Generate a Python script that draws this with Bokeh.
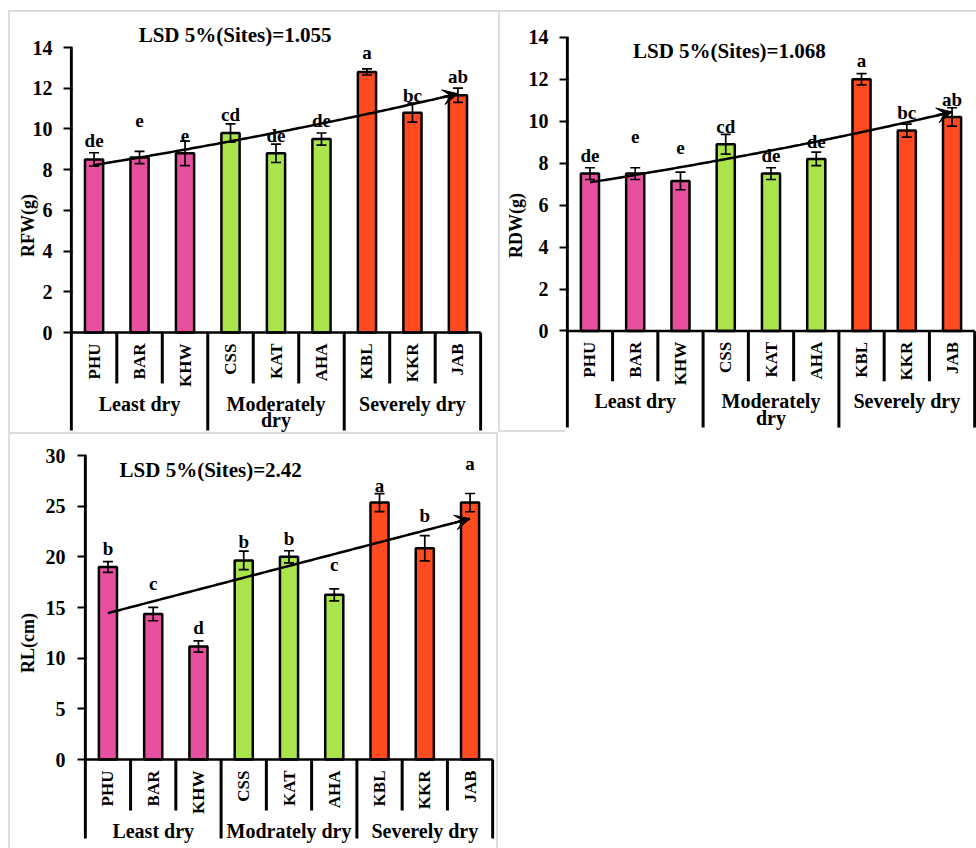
import numpy as np
from bokeh.plotting import figure
from bokeh.models import (FactorRange, ColumnDataSource, Whisker, TeeHead, Label,
                          Arrow, VeeHead, FixedTicker, Range1d)
from bokeh.layouts import column, row
from bokeh.core.properties import value
from bokeh.embed import file_html
from bokeh.resources import INLINE

# ---------------- data ----------------
sites = ["PHU", "BAR", "KHW", "CSS", "KAT", "AHA", "KBL", "KKR", "JAB"]
site_group = [0, 0, 0, 1, 1, 1, 2, 2, 2]
groups_top = ["Least dry", "Moderately\ndry", "Severely dry"]
groups_bottom = ["Least dry", "Modrately dry", "Severely dry"]

rfw = [8.5, 8.6, 8.8, 9.8, 8.8, 9.5, 12.8, 10.8, 11.65]
rfw_err = [0.33, 0.3, 0.6, 0.45, 0.45, 0.3, 0.15, 0.47, 0.35]
rfw_letters = ["de", "e", "e", "cd", "de", "de", "a", "bc", "ab"]
rfw_letter_y = [9.07, 10.05, 9.35, 10.38, 9.35, 10.05, 13.39, 11.31, 12.21]
rfw_ticks = [0, 2, 4, 6, 8, 10, 12, 14]

rdw = [7.5, 7.5, 7.15, 8.9, 7.5, 8.2, 12.0, 9.55, 10.2]
rdw_err = [0.28, 0.28, 0.42, 0.47, 0.28, 0.32, 0.27, 0.31, 0.44]
rdw_letters = ["de", "e", "e", "cd", "de", "de", "a", "bc", "ab"]
rdw_letter_y = [8.02, 8.93, 8.41, 9.43, 8.02, 8.69, 12.54, 10.09, 10.71]
rdw_ticks = [0, 2, 4, 6, 8, 10, 12, 14]

rl = [19.0, 14.35, 11.15, 19.65, 20.0, 16.25, 25.35, 20.85, 25.35]
rl_err = [0.53, 0.66, 0.56, 0.92, 0.6, 0.59, 0.89, 1.25, 0.9]
rl_letters = ["b", "c", "d", "b", "b", "c", "a", "b", "a"]
rl_letter_y = [20.13, 16.68, 12.34, 20.79, 21.12, 18.59, 26.38, 23.36, 28.52]
rl_ticks = [0, 5, 10, 15, 20, 25, 30]

group_colors = ["#E6509E", "#ABE34B", "#FF4B1F"]
FONT = "Liberation Serif"
GRAY = "#dedede"
ALPHA_FIX = 0.37  # em; renderer places alphabetic baseline a bit low


def make_panel(vals, errs, letters, letter_y, group_names, ticks, ylabel, title,
               title_x, title_y, fit_kind, W, H, L, R, T, B, zero_px, k,
               group_depth, label_standoff, axis_label_standoff, shadow):
    pad = 0.04
    y_end = (zero_px - T) / k
    y_start = -(H - B - zero_px) / k
    u = lambda px: px / k
    n = len(sites)

    p = figure(width=W, height=H,
               x_range=FactorRange(*sites, range_padding=pad, range_padding_units="absolute"),
               y_range=Range1d(y_start, y_end), x_axis_location=None,
               toolbar_location=None, output_backend="svg",
               min_border_left=L, min_border_right=R, min_border_top=T, min_border_bottom=B)
    p.grid.visible = False
    p.outline_line_color = None
    p.border_fill_color = None
    p.background_fill_color = "white"
    p.styles = {"box-shadow": shadow}

    ymax = ticks[-1]
    colors = [group_colors[g] for g in site_group]
    p.vbar(x=sites, top=vals, bottom=0, width=0.4, fill_color=colors,
           line_color="black", line_width=2.5)

    src = ColumnDataSource(dict(x=sites,
                                upper=[v + e for v, e in zip(vals, errs)],
                                lower=[v - e for v, e in zip(vals, errs)]))
    w = Whisker(base="x", upper="upper", lower="lower", source=src, level="overlay",
                line_width=1.7, line_color="black",
                upper_head=TeeHead(size=10, line_width=1.7, line_color="black"),
                lower_head=TeeHead(size=10, line_width=1.7, line_color="black"))
    p.add_layout(w)

    lfs = 19
    p.text(x=sites, y=[v + u(ALPHA_FIX * lfs) for v in letter_y], text=letters,
           text_align="center", text_baseline="alphabetic", text_font=value(FONT),
           text_font_style="bold", text_font_size=f"{lfs}px", text_color="black")

    xi = np.arange(1, n + 1)
    xs = np.linspace(0.5, n - 0.5, 120)
    if fit_kind == "exp":
        b, a = np.polyfit(xi, np.log(vals), 1)
        fit = np.exp(a + b * (xs + 0.5))
    else:
        b, a = np.polyfit(xi, vals, 1)
        fit = a + b * (xs + 0.5)
    p.line(xs, fit, line_width=2.5, line_color="black")
    p.add_layout(Arrow(end=VeeHead(size=15, fill_color="black", line_color="black", line_width=1),
                       x_start=xs[-6], y_start=fit[-6], x_end=xs[-1], y_end=fit[-1],
                       line_width=2.5, line_color="black"))

    bounds_inner, bounds_outer = [], [0]
    for i in range(1, n):
        (bounds_outer if site_group[i] != site_group[i - 1] else bounds_inner).append(i)
    bounds_outer.append(n)
    p.segment(x0=bounds_inner, y0=[0] * len(bounds_inner), x1=bounds_inner,
              y1=[-u(51)] * len(bounds_inner), line_width=3, line_color="black")
    p.segment(x0=bounds_outer, y0=[ymax] + [0] * (len(bounds_outer) - 1), x1=bounds_outer,
              y1=[-u(group_depth)] * len(bounds_outer), line_width=3, line_color="black")
    p.segment(x0=[0], y0=[0], x1=[n], y1=[0], line_width=2.5, line_color="black")

    p.text(x=sites, y=[-u(11)] * n, text=sites, angle=np.pi / 2, text_align="right",
           text_baseline="middle", text_font=value(FONT), text_font_style="bold",
           text_font_size="17px", text_color="black")

    for i, g in enumerate(group_names):
        gx = (bounds_outer[i] + bounds_outer[i + 1]) / 2
        p.add_layout(Label(x=gx, y=-u(60), text=g, text_align="center",
                           text_baseline="top", text_font=FONT, text_font_style="bold",
                           text_font_size="20px", text_line_height=0.76,
                           text_color="black"))

    tfs = 21
    p.add_layout(Label(x=title_x, y=title_y + u(ALPHA_FIX * tfs), text=title,
                       text_align="center", text_baseline="alphabetic", text_font=FONT,
                       text_font_style="bold", text_font_size=f"{tfs}px", text_color="black"))

    ax = p.yaxis[0]
    ax.bounds = (0, ymax)
    ax.ticker = FixedTicker(ticks=ticks)
    ax.axis_line_color = None
    ax.major_tick_in = 3
    ax.major_tick_out = 6
    ax.major_tick_line_width = 2
    ax.major_tick_line_color = "black"
    ax.minor_tick_line_color = None
    ax.major_label_standoff = label_standoff
    ax.major_label_text_font = FONT
    ax.major_label_text_font_style = "bold"
    ax.major_label_text_font_size = "20px"
    ax.major_label_text_color = "black"
    ax.axis_label = ylabel
    ax.axis_label_text_font = FONT
    ax.axis_label_text_font_style = "bold"
    ax.axis_label_text_font_size = "18px"
    ax.axis_label_text_color = "black"
    ax.axis_label_standoff = axis_label_standoff
    return p


p1 = make_panel(rfw, rfw_err, rfw_letters, rfw_letter_y, groups_top, rfw_ticks, "RFW(g)",
                "LSD 5%(Sites)=1.055", 3.6, 14.21, "exp",
                W=498, H=432, L=69, R=16, T=18, B=0, zero_px=332, k=285 / 14,
                group_depth=98, label_standoff=11, axis_label_standoff=-8,
                shadow=f"inset 8px 10px 0 0 white, inset 10px 12px 0 0 {GRAY}")
p2 = make_panel(rdw, rdw_err, rdw_letters, rdw_letter_y, groups_top, rdw_ticks, "RDW(g)",
                "LSD 5%(Sites)=1.068", 3.58, 12.98, "exp",
                W=478, H=432, L=67, R=0, T=12, B=0, zero_px=329, k=298 / 14,
                group_depth=98, label_standoff=11, axis_label_standoff=0,
                shadow=f"inset 0 10px 0 0 white, inset 2px 12px 0 0 {GRAY}, inset 0 -2px 0 0 {GRAY}")
p3 = make_panel(rl, rl_err, rl_letters, rl_letter_y, groups_bottom, rl_ticks, "RL(cm)",
                "LSD 5%(Sites)=2.42", 2.77, 27.8, "lin",
                W=498, H=416, L=83, R=4, T=5, B=0, zero_px=327, k=304 / 30,
                group_depth=79, label_standoff=12, axis_label_standoff=5,
                shadow=f"inset 8px 0 0 0 white, inset 10px 2px 0 0 {GRAY}, inset -2px 0 0 0 {GRAY}")

root = column(row(p1, p2), p3)
open("out.html", "w").write(file_html(root, INLINE))
